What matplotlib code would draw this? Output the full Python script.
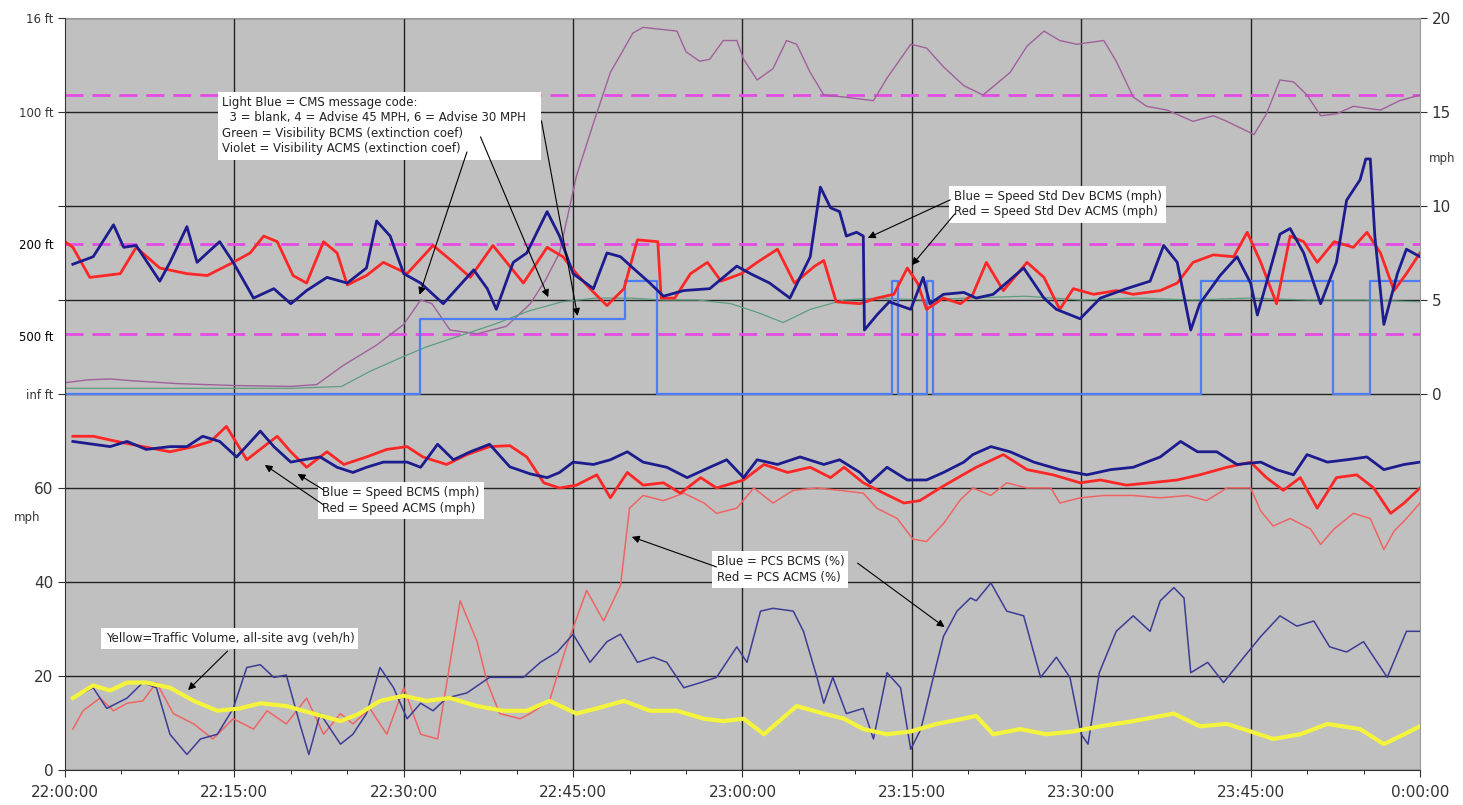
import numpy as np
import matplotlib.pyplot as plt

# x values are minutes after 22:00
time_ticks = [0, 15, 30, 45, 60, 75, 90, 105, 120]
time_labels = ["22:00:00", "22:15:00", "22:30:00", "22:45:00", "23:00:00",
               "23:15:00", "23:30:00", "23:45:00", "0:00:00"]

# ---- upper panel (right axis, mph / scaled visibility) ----
sdb_t = [0.7, 2.5, 4.3, 5.2, 6.3, 8.4, 9.3, 10.8, 11.7, 12.6,
         13.7, 14.9, 16.7, 18.5, 20.0, 21.4, 23.2, 25.0, 26.7, 27.6,
         28.8, 30.0, 31.5, 33.5, 36.2, 37.4, 38.2, 39.7, 40.9, 42.7,
         43.8, 45.0, 46.8, 48.0, 49.2, 50.3, 51.8, 53.0, 54.8, 57.1,
         59.5, 60.7, 62.4, 64.2, 66.0, 66.9, 67.8, 68.6, 69.2, 70.1,
         70.7, 70.8, 71.9, 73.0, 74.9, 76.0, 76.6, 77.8, 79.6, 80.7,
         82.2, 84.9, 86.7, 87.8, 89.9, 91.7, 94.0, 96.1, 97.3, 98.5,
         99.7, 100.5, 102.3, 103.8, 105.0, 105.6, 106.4, 107.6, 108.5, 109.7,
         111.2, 112.6, 113.5, 114.7, 115.2, 115.6, 116.0, 116.8, 118.0, 118.8,
         120.0]
sd_bcms = [6.9, 7.3, 9.0, 7.8, 7.9, 6.0, 7.0, 8.9, 7.0, 7.5,
           8.1, 7.0, 5.1, 5.6, 4.8, 5.5, 6.2, 5.9, 6.7, 9.2,
           8.4, 6.4, 5.9, 4.8, 6.6, 5.6, 4.5, 7.0, 7.5, 9.7,
           8.4, 6.4, 5.6, 7.5, 7.3, 6.7, 5.9, 5.2, 5.5, 5.6,
           6.8, 6.4, 5.9, 5.1, 7.3, 11.0, 9.9, 9.7, 8.4, 8.6,
           8.4, 3.4, 4.2, 4.9, 4.5, 6.2, 4.8, 5.3, 5.4, 5.1,
           5.3, 6.7, 5.1, 4.5, 4.0, 5.1, 5.6, 6.0, 7.9, 7.0,
           3.4, 4.8, 6.3, 7.3, 5.9, 4.2, 5.9, 8.5, 8.8, 7.5,
           4.8, 7.0, 10.3, 11.4, 12.5, 12.5, 8.4, 3.7, 6.4, 7.7,
           7.3]

sda_t = [0.0, 0.7, 2.2, 4.9, 6.3, 8.4, 10.8, 12.6, 14.9, 16.4,
         17.6, 18.8, 20.2, 21.4, 22.9, 24.1, 25.0, 26.7, 28.2, 30.3,
         32.6, 34.4, 35.9, 37.9, 40.6, 42.7, 44.1, 45.3, 46.5, 48.0,
         49.5, 50.7, 52.5, 52.8, 54.0, 55.4, 56.9, 58.1, 59.9, 61.3,
         63.1, 64.6, 66.4, 67.2, 68.3, 70.4, 71.9, 73.4, 74.6, 75.5,
         76.3, 77.8, 79.3, 80.4, 81.6, 83.1, 85.2, 86.7, 88.1, 89.3,
         91.1, 93.1, 94.6, 97.0, 98.5, 99.9, 101.7, 103.5, 104.7, 105.9,
         107.3, 108.5, 109.7, 110.9, 112.4, 114.1, 115.3, 116.5, 117.7, 118.8,
         120.0]
sd_acms = [8.1, 7.8, 6.2, 6.4, 7.8, 6.7, 6.4, 6.3, 7.0, 7.5,
           8.4, 8.1, 6.3, 5.9, 8.1, 7.5, 5.8, 6.3, 7.0, 6.4,
           7.9, 7.0, 6.2, 7.9, 5.9, 7.8, 7.3, 6.4, 5.6, 4.7,
           5.6, 8.2, 8.1, 5.1, 5.1, 6.4, 7.0, 6.0, 6.4, 7.0,
           7.7, 5.9, 6.8, 7.1, 4.9, 4.8, 5.1, 5.3, 6.7, 5.9,
           4.5, 5.1, 4.8, 5.3, 7.0, 5.5, 7.0, 6.2, 4.5, 5.6,
           5.3, 5.5, 5.3, 5.5, 5.9, 7.0, 7.4, 7.3, 8.6, 7.0,
           4.8, 8.4, 8.1, 7.0, 8.1, 7.8, 8.6, 7.5, 5.5, 6.4,
           7.5]

cms_t = [0, 31.4, 49.6, 52.4, 73.2, 73.8, 76.3, 76.9, 100.6, 112.3, 115.6, 120]
cms_code = [0, 4, 6, 0, 6, 0, 6, 0, 6, 0, 6, 6]

vio_t = [0, 2, 4, 6, 10, 15, 20, 22.3, 24.6, 27.6,
         30.0, 31.5, 32.5, 34.1, 36.5, 39.1, 41.2, 42.5, 43.8, 45.3,
         46.8, 48.3, 50.3, 51.2, 54.2, 55.0, 56.2, 57.1, 58.3, 59.5,
         60.1, 61.3, 62.7, 63.9, 64.8, 66.0, 67.2, 68.9, 71.6, 72.8,
         74.9, 76.3, 77.8, 79.6, 81.3, 83.7, 85.2, 86.7, 88.1, 89.6,
         92.0, 93.1, 94.6, 95.8, 97.6, 99.9, 101.7, 102.9, 105.3, 106.4,
         107.6, 108.8, 110.0, 111.2, 112.6, 114.1, 116.5, 118.2, 120.0]
vis_acms = [0.6, 0.75, 0.8, 0.7, 0.55, 0.45, 0.4, 0.5, 1.5, 2.6,
            3.7, 5.0, 4.8, 3.4, 3.2, 3.6, 4.8, 6.0, 7.5, 11.6,
            14.4, 17.1, 19.2, 19.5, 19.3, 18.2, 17.7, 17.8, 18.8, 18.8,
            17.8, 16.7, 17.3, 18.8, 18.6, 17.1, 15.9, 15.8, 15.6, 16.8,
            18.6, 18.4, 17.4, 16.4, 15.9, 17.1, 18.5, 19.3, 18.8, 18.6,
            18.8, 17.7, 15.8, 15.3, 15.1, 14.5, 14.8, 14.5, 13.8, 14.9,
            16.7, 16.6, 15.9, 14.8, 14.9, 15.3, 15.1, 15.6, 15.9]

grn_t = [0, 10, 20, 24.5, 27, 30, 32, 35, 38, 41,
         44, 47, 50, 53, 56, 59, 61.5, 63.6, 66, 69,
         72, 76, 80, 85, 90, 95, 100, 105, 110, 115, 120]
vis_bcms = [0.3, 0.3, 0.3, 0.4, 1.2, 2.0, 2.5, 3.1, 3.7, 4.4,
            4.9, 5.1, 5.1, 5.0, 5.0, 4.8, 4.3, 3.8, 4.5, 5.0,
            5.1, 5.0, 5.1, 5.2, 5.0, 5.1, 5.0, 5.1, 5.0, 5.0, 4.9]

threshold_levels = [15.9, 8.0, 3.2]

# ---- lower panel (left axis) ----
spb_t = [0.7, 2.5, 4.0, 5.5, 7.2, 9.3, 10.8, 12.2, 13.7, 15.2,
         17.3, 18.5, 20.0, 21.1, 22.6, 24.1, 25.5, 26.7, 28.2, 30.3,
         31.5, 33.0, 34.4, 35.9, 37.6, 39.4, 41.2, 42.7, 43.8, 45.0,
         46.8, 48.3, 49.8, 51.2, 53.3, 55.1, 57.1, 58.6, 60.1, 61.3,
         63.1, 65.1, 67.2, 68.6, 70.4, 71.3, 72.8, 74.6, 76.3, 77.8,
         79.6, 80.4, 82.0, 83.7, 85.8, 88.1, 90.5, 92.6, 94.6, 97.0,
         98.8, 100.3, 102.0, 103.8, 105.9, 107.3, 108.8, 110.0, 111.8, 113.5,
         115.3, 116.8, 118.6, 120.0]
speed_bcms = [69.9, 69.3, 68.8, 69.9, 68.2, 68.8, 68.8, 71.0, 69.9, 66.6,
              72.1, 68.8, 65.5, 66.0, 66.6, 64.4, 63.3, 64.4, 65.5, 65.5,
              64.4, 69.3, 66.0, 67.7, 69.3, 64.5, 63.0, 62.2, 63.3, 65.5,
              65.0, 66.0, 67.7, 65.5, 64.4, 62.2, 64.4, 66.0, 62.2, 66.0,
              65.0, 66.6, 65.0, 66.0, 63.3, 61.1, 64.4, 61.7, 61.7, 63.3,
              65.5, 67.1, 68.8, 67.7, 65.5, 63.9, 62.8, 63.9, 64.4, 66.6,
              69.9, 67.7, 67.7, 65.0, 65.5, 63.9, 62.8, 67.1, 65.5, 66.0,
              66.6, 63.9, 65.0, 65.5]

spa_t = [0.7, 2.5, 4.6, 6.9, 9.3, 11.4, 12.9, 14.3, 16.1, 17.6,
         18.8, 20.0, 21.4, 23.2, 24.7, 26.7, 28.5, 30.3, 31.7, 33.8,
         35.6, 37.6, 39.4, 40.9, 42.4, 43.8, 45.3, 47.1, 48.3, 49.8,
         51.2, 53.0, 54.5, 56.3, 57.7, 60.1, 61.9, 64.0, 66.0, 67.8,
         69.0, 70.7, 72.5, 74.3, 75.7, 77.5, 79.3, 80.7, 83.1, 85.2,
         87.5, 89.9, 91.7, 94.0, 96.1, 98.5, 100.5, 102.9, 105.0, 106.4,
         107.9, 109.4, 110.9, 112.6, 114.4, 115.9, 117.4, 118.6, 120.0]
speed_acms = [71.0, 71.0, 69.9, 68.8, 67.7, 68.8, 69.9, 73.1, 66.0, 68.8,
              71.0, 67.7, 64.4, 67.7, 65.0, 66.6, 68.2, 68.8, 66.6, 65.0,
              67.1, 68.8, 69.0, 66.6, 61.1, 60.0, 60.6, 62.8, 57.9, 63.3,
              60.6, 61.1, 58.9, 62.2, 60.0, 61.7, 65.0, 63.3, 64.4, 62.2,
              64.4, 61.1, 58.9, 56.8, 57.3, 60.0, 62.5, 64.4, 67.1, 63.9,
              62.8, 61.1, 61.7, 60.6, 61.1, 61.7, 62.8, 64.4, 65.5, 62.2,
              59.5, 62.2, 55.7, 62.2, 62.8, 60.0, 54.6, 56.8, 60.0]

pca_t = [0.7, 1.6, 3.1, 4.3, 5.5, 6.9, 8.1, 9.6, 11.4, 13.1,
         14.9, 16.7, 17.9, 19.6, 21.4, 22.9, 24.4, 25.5, 27.0, 28.5,
         30.0, 31.5, 33.0, 35.0, 36.5, 37.4, 38.5, 40.3, 41.2, 42.9,
         44.4, 46.2, 47.7, 49.2, 50.0, 51.2, 53.0, 54.8, 56.6, 57.7,
         59.5, 61.0, 62.7, 64.5, 66.6, 68.6, 70.7, 71.9, 73.7, 75.1,
         76.3, 77.8, 79.3, 80.4, 82.0, 83.4, 85.2, 87.3, 88.1, 89.9,
         92.0, 94.6, 97.0, 99.4, 101.1, 102.9, 105.0, 105.9, 107.0, 108.5,
         110.3, 111.2, 112.4, 114.1, 115.6, 116.8, 117.7, 118.8, 120.0]
pcs_acms = [8.7, 12.6, 15.3, 12.6, 14.2, 14.7, 18.6, 12.0, 9.8, 6.6,
            10.9, 8.7, 12.6, 9.8, 15.3, 7.6, 12.0, 9.8, 13.1, 7.6,
            17.5, 7.6, 6.6, 36.0, 27.3, 18.6, 12.0, 10.9, 12.0, 14.7,
            26.2, 38.2, 31.7, 39.3, 55.7, 58.4, 57.3, 58.9, 56.8, 54.6,
            55.7, 60.0, 56.8, 59.5, 60.0, 59.5, 58.9, 55.7, 53.5, 49.1,
            48.6, 52.4, 57.5, 60.0, 58.4, 61.1, 60.0, 60.0, 56.8, 57.9,
            58.4, 58.4, 57.9, 58.4, 57.3, 60.0, 60.0, 55.1, 51.9, 53.5,
            51.3, 48.0, 51.3, 54.6, 53.5, 46.9, 50.8, 53.5, 56.8]

pcb_t = [0.7, 2.5, 3.7, 5.5, 6.9, 8.1, 9.3, 10.8, 12.0, 13.5,
         14.9, 16.1, 17.3, 18.5, 19.6, 20.8, 21.6, 22.6, 24.4, 25.5,
         26.7, 27.9, 29.1, 30.3, 31.5, 32.6, 33.8, 35.6, 37.6, 39.4,
         40.6, 42.1, 43.6, 45.0, 46.5, 48.0, 49.2, 50.7, 52.1, 53.3,
         54.8, 56.3, 57.7, 59.5, 60.4, 61.6, 62.7, 64.5, 65.4, 66.6,
         67.2, 68.0, 69.2, 70.7, 71.6, 72.8, 74.0, 74.9, 75.8, 77.0,
         77.8, 79.0, 80.2, 80.7, 82.0, 83.4, 84.9, 86.4, 87.8, 89.0,
         90.0, 90.6, 91.6, 93.1, 94.6, 96.1, 97.0, 98.2, 99.1, 99.7,
         101.2, 102.6, 104.4, 105.9, 107.6, 109.1, 110.6, 112.0, 113.5, 115.0,
         117.1, 118.8, 120.0]
pcs_bcms = [15.3, 17.5, 13.1, 15.3, 18.6, 17.5, 7.6, 3.3, 6.6, 7.6,
            13.1, 21.8, 22.4, 19.7, 20.2, 9.8, 3.3, 12.0, 5.5, 7.6,
            12.0, 21.8, 17.5, 10.9, 14.2, 12.6, 15.3, 16.4, 19.7, 19.7,
            19.7, 22.9, 25.1, 28.9, 22.9, 27.3, 28.9, 22.9, 24.0, 22.9,
            17.5, 18.6, 19.7, 26.2, 22.9, 33.8, 34.4, 33.8, 29.5, 19.7,
            14.2, 19.7, 12.0, 13.1, 6.6, 20.7, 17.5, 4.4, 8.7, 20.7,
            28.4, 33.8, 36.6, 36.0, 39.8, 33.8, 32.8, 19.7, 24.0, 19.7,
            7.6, 5.5, 20.7, 29.5, 32.8, 29.5, 36.0, 38.8, 36.6, 20.7,
            22.9, 18.6, 24.0, 28.4, 32.8, 30.6, 31.7, 26.2, 25.1, 27.3,
            19.7, 29.5, 29.5]

vol_t = [0.7, 2.5, 4.0, 5.5, 7.2, 9.3, 11.4, 13.5, 15.5, 17.3,
         19.6, 22.0, 24.4, 26.1, 27.9, 30.0, 32.0, 34.1, 36.5, 38.8,
         40.9, 42.9, 45.3, 47.1, 49.5, 51.8, 54.2, 56.6, 58.3, 60.1,
         61.9, 64.8, 67.2, 69.0, 70.7, 72.8, 74.9, 77.2, 79.5, 80.7,
         82.2, 84.6, 86.9, 89.3, 91.7, 94.6, 98.2, 100.5, 102.9, 105.0,
         107.0, 109.4, 111.8, 114.7, 116.8, 118.6, 120.0]
volume = [15.3, 18.0, 16.9, 18.6, 18.6, 17.5, 14.7, 12.6, 13.1, 14.2,
          13.6, 12.0, 10.4, 12.0, 14.7, 15.8, 14.7, 15.3, 13.6, 12.6,
          12.6, 14.7, 12.0, 13.1, 14.7, 12.6, 12.6, 10.9, 10.4, 10.9,
          7.6, 13.6, 12.0, 10.9, 8.7, 7.6, 8.2, 9.8, 10.9, 11.5,
          7.6, 8.7, 7.6, 8.2, 9.3, 10.4, 12.0, 9.3, 9.8, 8.2,
          6.6, 7.6, 9.8, 8.7, 5.5, 7.6, 9.3]

left_ticks = [0, 20, 40, 60, 80, 100, 120, 140, 160]
left_labels = ["0", "20", "40", "60", "inf ft", "", "", "100 ft", "16 ft"]
left_minor = [92.3, 112]
left_minor_labels = ["500 ft", "200 ft"]

navy = "#1c1c8e"
red = "#ff2626"

fig = plt.figure(figsize=(14.63, 8.05), dpi=100)
ax = fig.add_axes([0.0444, 0.0435, 0.9262, 0.9342])
ax2 = ax.twinx()
ax.set_zorder(ax2.get_zorder() + 1)
ax.patch.set_visible(False)
ax2.patch.set_visible(True)
ax2.patch.set_facecolor("#c0c0c0")

ax.set_xlim(0, 120)
ax.set_ylim(0, 160)
ax2.set_ylim(-20, 20)

# upper panel
for lvl in threshold_levels:
    ax2.axhline(lvl, color="#e44ce4", lw=2.0, dashes=(6.5, 3.2))
ax2.plot(vio_t, vis_acms, color="#a0609c", lw=1.0)
ax2.plot(grn_t, vis_bcms, color="#5e9e80", lw=0.9)
ax2.plot(cms_t, cms_code, color="#4d7cf5", lw=1.6, drawstyle="steps-post")
ax2.plot(sda_t, sd_acms, color=red, lw=2.0)
ax2.plot(sdb_t, sd_bcms, color=navy, lw=2.0)

# lower panel
ax.plot(pca_t, pcs_acms, color="#f06464", lw=1.1)
ax.plot(pcb_t, pcs_bcms, color="#3c3c96", lw=1.1)
ax.plot(vol_t, volume, color="#f4f43c", lw=3.0)
ax.plot(spa_t, speed_acms, color=red, lw=2.0)
ax.plot(spb_t, speed_bcms, color=navy, lw=2.0)

# grid drawn on the back axes
ax2.set_yticks(np.arange(-20, 21, 5))
ax2.set_yticklabels(["", "", "", "", "0", "5", "10", "15", "20"])
for tk in ax2.yaxis.get_major_ticks()[:4]:
    tk.tick2line.set_visible(False)
ax2.grid(True, color="#222222", lw=1.0)
ax2.set_axisbelow(True)
ax2.tick_params(axis="y", labelsize=11, colors="#333333", length=5)

ax.set_xticks(time_ticks)
ax.set_xticklabels(time_labels)
ax.set_xticks(np.arange(0, 121, 5), minor=True)
ax.tick_params(axis="x", labelsize=11, colors="#333333", length=5, pad=6)
ax.tick_params(axis="x", which="minor", length=3)
for x in time_ticks[1:-1]:
    ax2.axvline(x, color="#222222", lw=1.0, zorder=0.5)

ax.set_yticks(left_ticks)
ax.set_yticklabels(left_labels)
ax.set_yticks(left_minor, minor=True)
ax.set_yticklabels(left_minor_labels, minor=True)
ax.tick_params(axis="y", labelsize=11, colors="#333333", length=5)
ax.tick_params(axis="y", which="minor", length=0, labelsize=8.5, pad=8)
for lab in ax.get_yticklabels():
    if "ft" in lab.get_text():
        lab.set_fontsize(8.5)

for side in ["top", "right"]:
    ax.spines[side].set_visible(False)
    ax2.spines[side].set_color("#999999")
ax2.spines["left"].set_visible(False)
ax2.spines["bottom"].set_visible(False)
ax.spines["left"].set_color("#333333")
ax.spines["bottom"].set_color("#333333")

ax.text(-0.028, 53.8, "mph", transform=ax.get_yaxis_transform(), fontsize=8.5,
        color="#333333", ha="center", va="center")
ax.text(1.016, 12.5, "mph", transform=ax2.get_yaxis_transform(), fontsize=8.5,
        color="#333333", ha="center", va="center")

# callout boxes and arrows
box = dict(boxstyle="square,pad=0.35", fc="white", ec="none")
arrow = dict(arrowstyle="-|>", color="black", lw=0.8, mutation_scale=11,
             shrinkA=0, shrinkB=0)
note_kw = dict(fontsize=8.5, ha="left", va="top", linespacing=1.25, bbox=box,
               zorder=10, color="#222222")

ax.text(13.9, 143.4,
        "Light Blue = CMS message code:\n"
        "  3 = blank, 4 = Advise 45 MPH, 6 = Advise 30 MPH   \n"
        "Green = Visibility BCMS (extinction coef)\n"
        "Violet = Visibility ACMS (extinction coef)", **note_kw)
ax.annotate("", xy=(31.4, 101.1), xytext=(35.6, 131.5), arrowprops=arrow, zorder=11)
ax.annotate("", xy=(42.8, 100.6), xytext=(36.8, 134.7), arrowprops=arrow, zorder=11)
ax.annotate("", xy=(45.4, 96.6), xytext=(42.2, 138.1), arrowprops=arrow, zorder=11)

ax.text(78.7, 123.4, "Blue = Speed Std Dev BCMS (mph)\nRed = Speed Std Dev ACMS (mph)",
        **note_kw)
ax.annotate("", xy=(71.1, 113.2), xytext=(78.4, 121.3), arrowprops=arrow, zorder=11)
ax.annotate("", xy=(75.0, 107.4), xytext=(78.8, 118.3), arrowprops=arrow, zorder=11)

ax.text(22.8, 60.4, "Blue = Speed BCMS (mph)\nRed = Speed ACMS (mph)", **note_kw)
ax.annotate("", xy=(17.7, 64.9), xytext=(22.9, 56.4), arrowprops=arrow, zorder=11)
ax.annotate("", xy=(20.6, 63.0), xytext=(22.9, 59.6), arrowprops=arrow, zorder=11)

ax.text(57.7, 45.7, "Blue = PCS BCMS (%)\nRed = PCS ACMS (%)", **note_kw)
ax.annotate("", xy=(50.2, 49.6), xytext=(57.7, 43.2), arrowprops=arrow, zorder=11)
ax.annotate("", xy=(77.9, 30.4), xytext=(70.2, 44.0), arrowprops=arrow, zorder=11)

ax.text(3.6, 29.4, "Yellow=Traffic Volume, all-site avg (veh/h)", **note_kw)
ax.annotate("", xy=(10.9, 17.0), xytext=(14.4, 25.3), arrowprops=arrow, zorder=11)

fig.savefig("out.png", dpi=100)
